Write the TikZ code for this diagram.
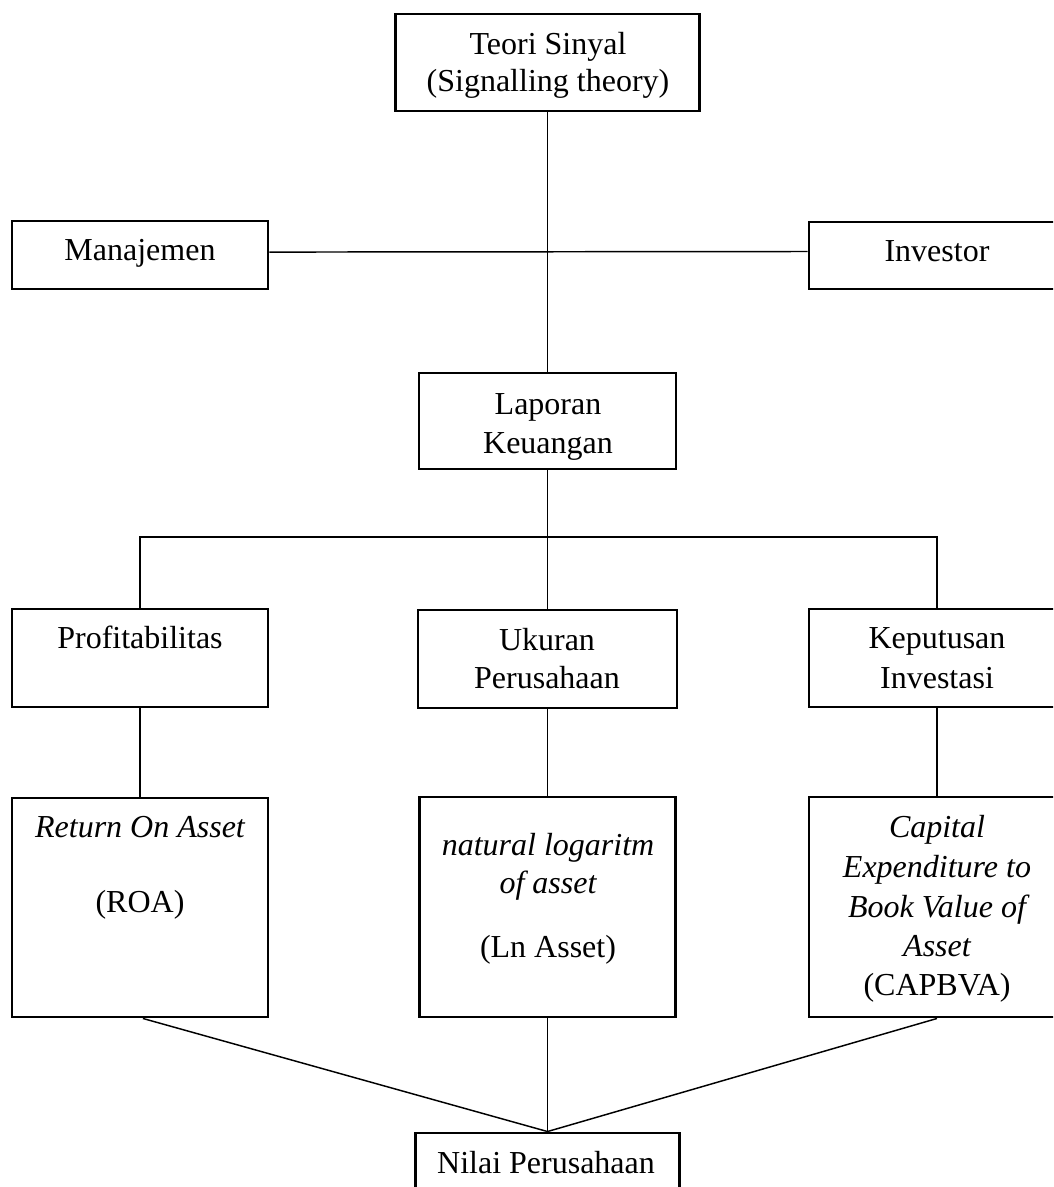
\documentclass[tikz,border=0pt]{standalone}
\usepackage{fontspec}
\setmainfont{Liberation Serif}
\begin{document}
\begin{tikzpicture}[x=0.75pt,y=-0.75pt,
  box/.style 2 args={draw, line width=2.2pt, inner sep=0pt, minimum width=#1*0.75pt, minimum height=#2*0.75pt},
  txt/.style={anchor=base, inner sep=0pt, font=\fontsize{24}{30}\selectfont},
  itx/.style={txt, font=\fontsize{24}{30}\selectfont\itshape},
  conn/.style={line width=1.1pt}]
\useasboundingbox (0,0) rectangle (1053,1187);
\clip (0,0) rectangle (1053,1187);
% boxes
\node[box={304}{97}] (teori) at (547.5,62.5) {};
\node[box={256}{68}] (man) at (140,255) {};
\node[box={256}{67}] (inv) at (937,255.5) {};
\node[box={257}{96}] (lap) at (547.5,421) {};
\node[box={256}{98}] (prof) at (140,658) {};
\node[box={259}{98}] (uk) at (547.5,659) {};
\node[box={256}{98}] (kep) at (937,658) {};
\node[box={256}{219}] (roa) at (140,907.5) {};
\node[box={256}{220}] (ln) at (547.5,907) {};
\node[box={256}{220}] (cap) at (937,907) {};
\node[box={264}{66}] (nilai) at (547.5,1166) {};
% texts
\node[txt] (t1) at (548,55) {Teori Sinyal};
\node[txt] (t2) at (548,92) {(Signalling theory)};
\node[txt] (t3) at (140,261) {Manajemen};
\node[txt] (t4) at (937,262) {Investor};
\node[txt] (t5) at (548,414) {Laporan};
\node[txt] (t6) at (548,453) {Keuangan};
\node[txt] (t7) at (140,648) {Profitabilitas};
\node[txt] (t8) at (547,650) {Ukuran};
\node[txt] (t9) at (547,688) {Perusahaan};
\node[txt] (t10) at (937,648) {Keputusan};
\node[txt] (t11) at (937,688) {Investasi};
\node[itx] (t12) at (140,837) {Return On Asset};
\node[txt] (t13) at (140,912) {(ROA)};
\node[itx] (t14) at (548,855) {natural logaritm};
\node[itx] (t15) at (548,893) {of asset};
\node[txt] (t16) at (548,957) {(Ln Asset)};
\node[itx] (t17) at (937,837) {Capital};
\node[itx] (t18) at (937,877) {Expenditure to};
\node[itx] (t19) at (937,917) {Book Value of};
\node[itx] (t20) at (937,956) {Asset};
\node[txt] (t21) at (937,995) {(CAPBVA)};
\node[txt] (t22) at (546,1173) {Nilai Perusahaan};
% connectors
\coordinate (bl) at (140,537);
\coordinate (br) at (937,537);
\draw[conn] (teori.south) -- (lap.north);
\draw[conn] ([yshift=2.2pt]man.east) -- ([yshift=3pt]inv.west);
\draw[conn] (lap.south) -- (uk.north);
\draw[conn] (prof.north) -- (bl) -- (br) -- (kep.north);
\draw[conn] (prof.south) -- (roa.north);
\draw[conn] (uk.south) -- (ln.north);
\draw[conn] (kep.south) -- (cap.north);
\draw[conn] ([xshift=2.2pt]roa.south) -- (nilai.north);
\draw[conn] (ln.south) -- (nilai.north);
\draw[conn] (cap.south) -- (nilai.north);
\end{tikzpicture}
\end{document}
